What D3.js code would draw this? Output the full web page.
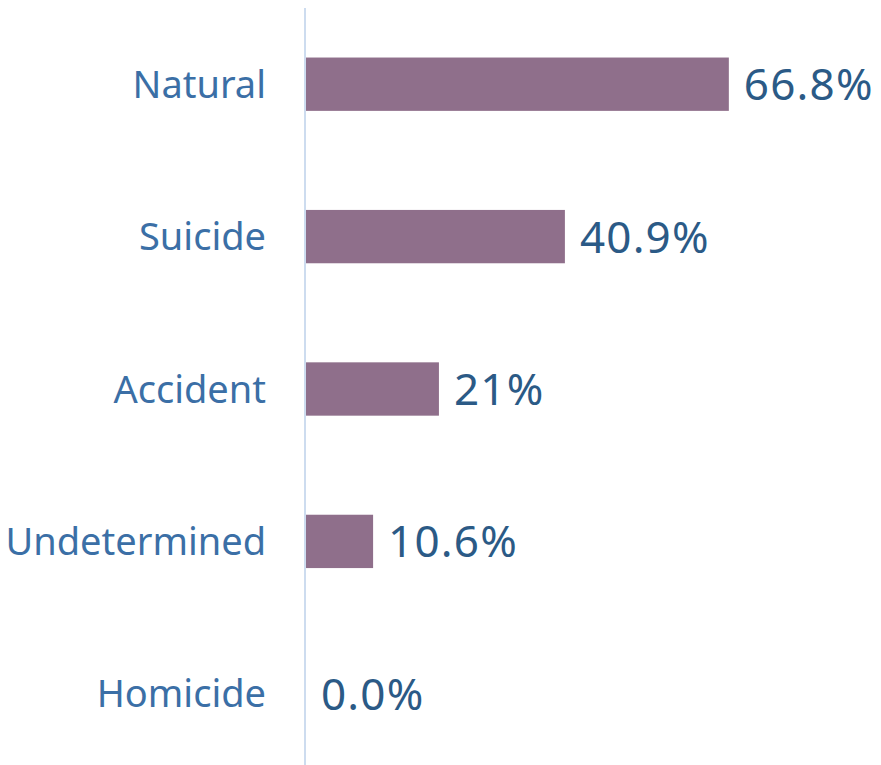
<!DOCTYPE html>
<html lang="en">
<head>
    <meta charset="UTF-8">
    <title>Manner of death</title>
    <script src="https://d3js.org/d3.v7.min.js"></script>
    <style>
        body { margin: 0; background: #fff; }
        text { font-family: "Noto Sans", sans-serif; }
    </style>
</head>
<body>
    <div id="chart"></div>
    <script>
        // Data
        const categories = ["Natural", "Suicide", "Accident", "Undetermined", "Homicide"];
        const values = [66.8, 40.9, 21, 10.6, 0.0];
        const valueLabels = ["66.8%", "40.9%", "21%", "10.6%", "0.0%"];

        const width = 881, height = 765;
        const axisX = 305;

        const svg = d3.select("#chart").append("svg")
            .attr("width", width)
            .attr("height", height);

        const x = d3.scaleLinear()
            .domain([0, 100])
            .range([axisX + 1, axisX + 1 + 633]);

        const y = d3.scaleBand()
            .domain(categories)
            .range([8, 770])
            .paddingInner(0.65)
            .paddingOuter(0.325);

        // bars
        svg.append("g")
            .selectAll("rect")
            .data(values)
            .join("rect")
            .attr("x", x(0))
            .attr("y", (d, i) => y(categories[i]))
            .attr("width", d => x(d) - x(0))
            .attr("height", y.bandwidth())
            .attr("fill", "#8f6f8b");

        // category axis line
        svg.append("line")
            .attr("x1", axisX).attr("x2", axisX)
            .attr("y1", 8).attr("y2", height)
            .attr("stroke", "#cddcef")
            .attr("stroke-width", 2);

        // category labels
        svg.append("g")
            .selectAll("text")
            .data(categories)
            .join("text")
            .attr("x", 266)
            .attr("y", d => y(d) + y.bandwidth() / 2 + 13.5)
            .attr("text-anchor", "end")
            .attr("font-size", 38)
            .attr("fill", "#3b6fa6")
            .text(d => d);

        // value labels
        svg.append("g")
            .selectAll("text")
            .data(values)
            .join("text")
            .attr("x", d => x(d) + 15)
            .attr("y", (d, i) => y(categories[i]) + y.bandwidth() / 2 + 16)
            .attr("font-size", 44)
            .attr("letter-spacing", 1.2)
            .attr("fill", "#2b5a86")
            .text((d, i) => valueLabels[i]);
    </script>
</body>
</html>
